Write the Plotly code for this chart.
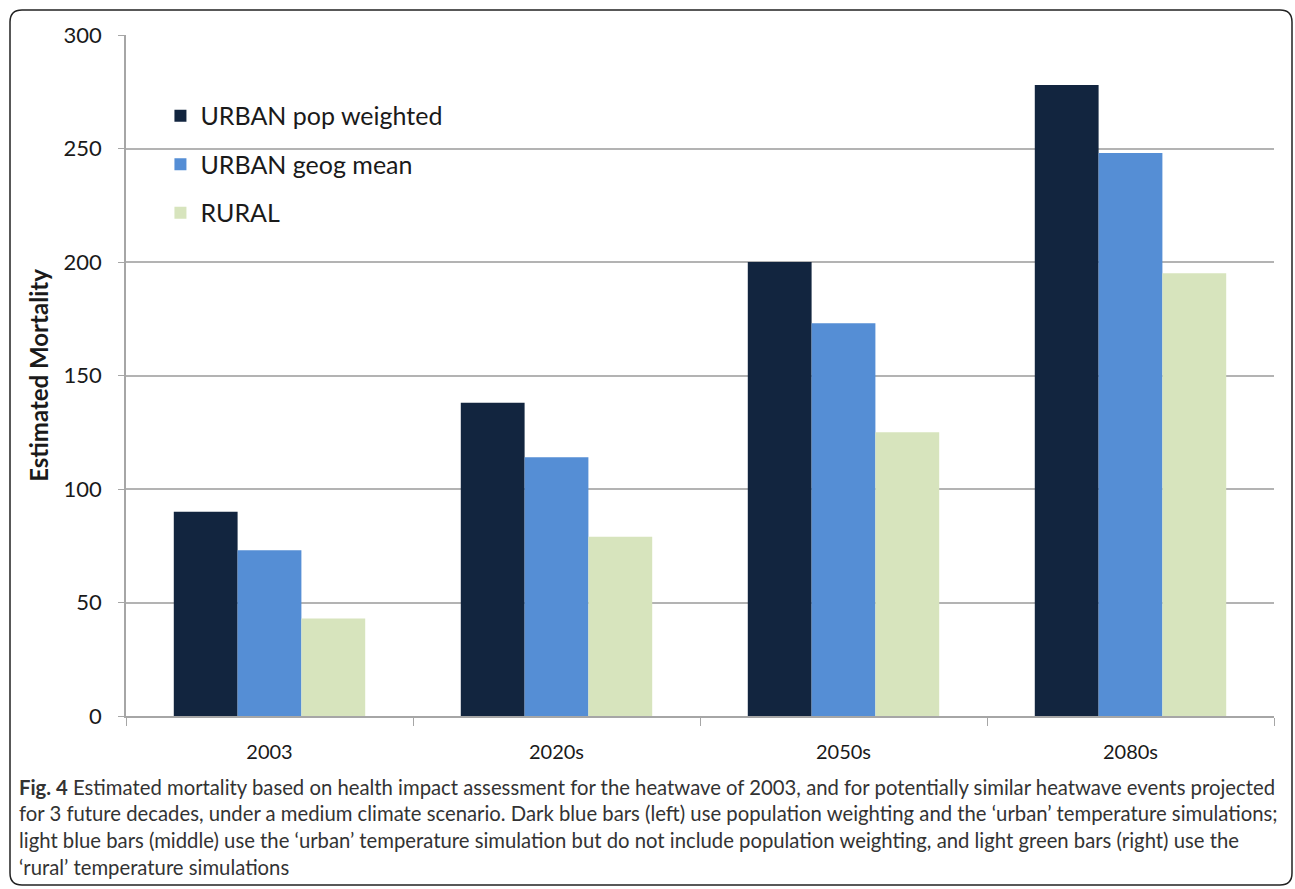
import plotly.graph_objects as go

categories = ["2003", "2020s", "2050s", "2080s"]
urban_pop_weighted = [90, 138, 200, 278]
urban_geog_mean = [73, 114, 173, 248]
rural = [43, 79, 125, 195]
series_names = ["URBAN pop weighted", "URBAN geog mean", "RURAL"]
colors = ["#12253f", "#558ed5", "#d7e4bd"]
y_ticks = [0, 50, 100, 150, 200, 250, 300]

caption_lines = [
    "<b>Fig. 4</b> Estimated mortality based on health impact assessment for the heatwave of 2003, and for potentially similar heatwave events projected",
    "for 3 future decades, under a medium climate scenario. Dark blue bars (left) use population weighting and the \u2018urban\u2019 temperature simulations;",
    "light blue bars (middle) use the \u2018urban\u2019 temperature simulation but do not include population weighting, and light green bars (right) use the",
    "\u2018rural\u2019 temperature simulations",
]

W, H = 1295, 889
L, R, T, B = 126, 21, 35, 173

fig = go.Figure()
for name, vals, col in zip(series_names, [urban_pop_weighted, urban_geog_mean, rural], colors):
    fig.add_trace(go.Bar(x=categories, y=vals, name=name, marker=dict(color=col, line=dict(width=0)),
                         legendgroup=name))

fig.update_layout(
    width=W, height=H,
    margin=dict(l=L, r=R, t=T, b=B, autoexpand=False),
    paper_bgcolor="white", plot_bgcolor="white",
    barmode="group", bargap=0.333, bargroupgap=0,
    font=dict(family="Lato, sans-serif", color="#1a1a1a"),
    showlegend=True,
    legend=dict(x=0.03, y=0.915, xanchor="left", yanchor="top",
                font=dict(size=25, color="#1a1a1a"), tracegroupgap=13,
                bgcolor="rgba(0,0,0,0)", itemwidth=30),
    yaxis=dict(range=[0, 300], tickvals=y_ticks, showgrid=True, gridcolor="#b3b3b3", gridwidth=1.5,
               showline=True, linecolor="#a6a6a6", linewidth=1.5, ticks="outside", ticklen=6,
               tickcolor="#a6a6a6", tickfont=dict(size=22, color="#1a1a1a"), zeroline=False,
               ticklabelstandoff=12,
               title=dict(text="<b>Estimated Mortality</b>", font=dict(size=24, color="#1a1a1a"), standoff=8)),
    xaxis=dict(showline=True, linecolor="#a6a6a6", linewidth=1.5, ticks="outside", ticklen=8,
               tickcolor="#a6a6a6", tickson="boundaries", tickfont=dict(size=20, color="#1a1a1a"),
               ticklabelstandoff=17),
)

def px(x):
    return (x - L) / (W - L - R)

def py(y):
    return (H - B - y) / (H - T - B)

line_y = [787, 813, 840, 867]
for txt, yy in zip(caption_lines, line_y):
    fig.add_annotation(text=txt, xref="paper", yref="paper",
                       x=px(17), y=py(yy),
                       xanchor="left", yanchor="middle", showarrow=False, align="left",
                       font=dict(size=20.3, color="#333333", family="Lato, sans-serif"))

x0, y0, x1, y1, r = 10, 10, 1292, 885, 12
path = (f"M {px(x0 + r)} {py(y0)} L {px(x1 - r)} {py(y0)} "
        f"Q {px(x1)} {py(y0)} {px(x1)} {py(y0 + r)} L {px(x1)} {py(y1 - r)} "
        f"Q {px(x1)} {py(y1)} {px(x1 - r)} {py(y1)} L {px(x0 + r)} {py(y1)} "
        f"Q {px(x0)} {py(y1)} {px(x0)} {py(y1 - r)} L {px(x0)} {py(y0 + r)} "
        f"Q {px(x0)} {py(y0)} {px(x0 + r)} {py(y0)} Z")
fig.add_shape(type="path", xref="paper", yref="paper", path=path,
              line=dict(color="#222222", width=1.5), layer="above")

fig.write_html("out.html", config={"displayModeBar": False},
               post_script="document.body.style.margin='0';document.body.style.overflow='hidden';")
